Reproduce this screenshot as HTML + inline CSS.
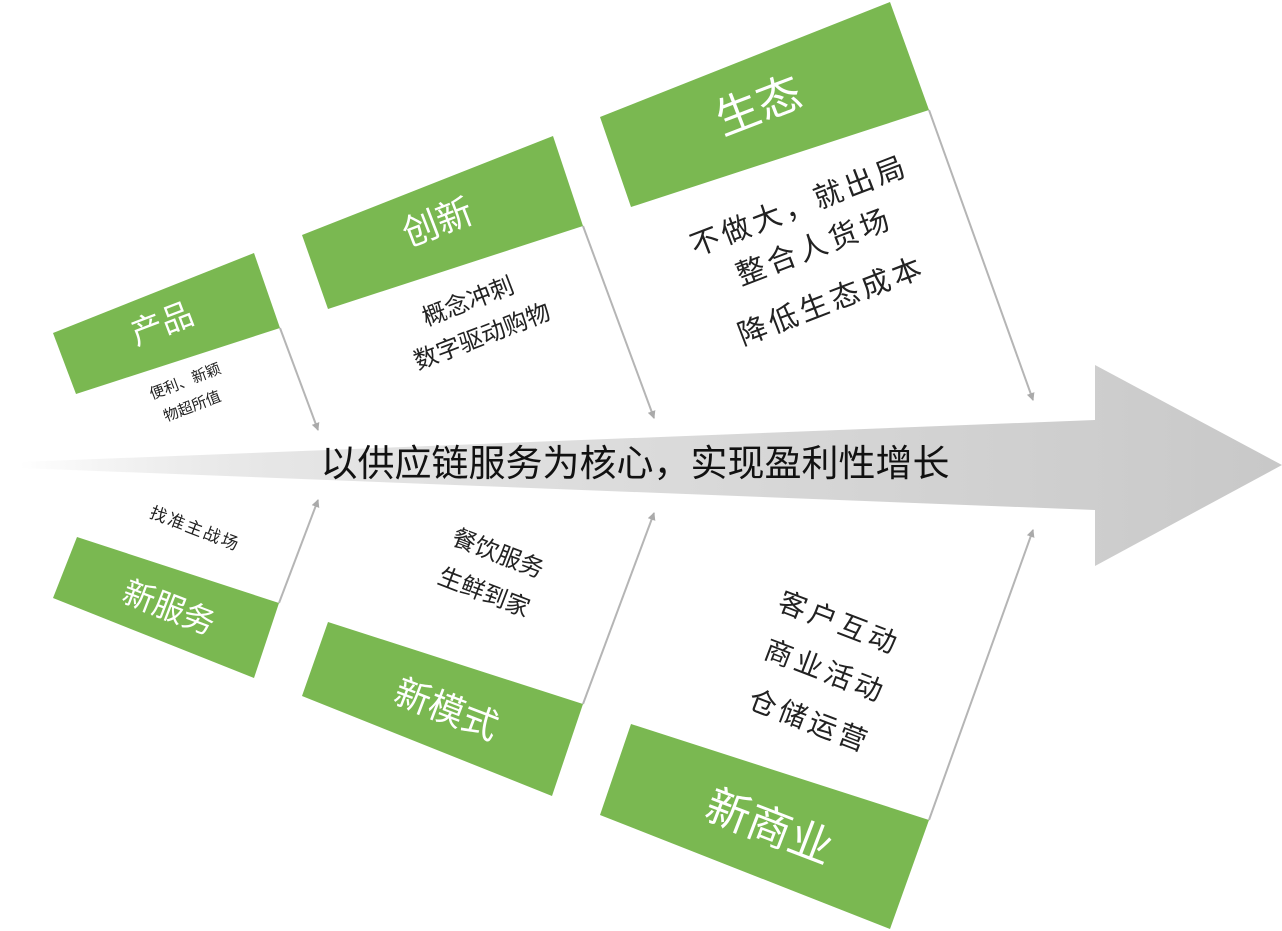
<!DOCTYPE html>
<html><head><meta charset="utf-8"><style>
html,body{margin:0;padding:0;background:#fff;}
svg{display:block;}
text{font-family:"Liberation Sans","Noto Sans CJK SC",sans-serif;}
</style></head><body>
<svg width="1282" height="931" viewBox="0 0 1282 931" xmlns="http://www.w3.org/2000/svg">
<defs>
<linearGradient id="g" x1="0" x2="1" y1="0" y2="0">
<stop offset="0" stop-color="#d0d0d0" stop-opacity="0"/>
<stop offset="0.25" stop-color="#e4e4e4" stop-opacity="1"/>
<stop offset="1" stop-color="#c8c8c8"/>
</linearGradient>
<marker id="ah" markerWidth="8" markerHeight="8" refX="7" refY="4" orient="auto" markerUnits="userSpaceOnUse">
<path d="M0,0 L8,4 L0,8 Z" fill="#aaa"/>
</marker>
</defs>
<polygon points="20,462 1095,420 1095,365 1282,465 1095,566 1095,510 20,468" fill="url(#g)"/>
<text x="635" y="476" font-size="37" text-anchor="middle" fill="#111">以供应链服务为核心，实现盈利性增长</text>

<g stroke="#b5b5b5" stroke-width="2" fill="none" marker-end="url(#ah)">
<line x1="280" y1="328" x2="318" y2="430"/>
<line x1="583" y1="226" x2="654" y2="418"/>
<line x1="929" y1="110" x2="1033" y2="400"/>
<line x1="279" y1="603" x2="318" y2="500"/>
<line x1="583" y1="704" x2="654" y2="513"/>
<line x1="929" y1="820" x2="1033" y2="530"/>
</g>

<g fill="#7ab851">
<polygon points="53,333 254,253 280,328 76,394"/>
<polygon points="302,235 553,136 583,226 328,309"/>
<polygon points="600,117 890,2 929,110 631,207"/>
<polygon points="77,537 279,603 254,678 53,598"/>
<polygon points="328,622 583,704 552,796 302,696"/>
<polygon points="631,724 929,820 890,929 600,815"/>
</g>

<g fill="#fff" text-anchor="middle">
<text transform="translate(166,334) rotate(-21)" font-size="32">产品</text>
<text transform="translate(442,234) rotate(-21)" font-size="36">创新</text>
<text transform="translate(764,120) rotate(-21)" font-size="44">生态</text>
<text transform="translate(165,618) rotate(21)" font-size="32">新服务</text>
<text transform="translate(442,721) rotate(21)" font-size="36">新模式</text>
<text transform="translate(764,841) rotate(21)" font-size="44">新商业</text>
</g>

<g fill="#222" text-anchor="middle">
<text transform="translate(187,386) rotate(-21)" font-size="15">便利、新颖</text>
<text transform="translate(194,411) rotate(-21)" font-size="15">物超所值</text>
<text transform="translate(471,309) rotate(-21)" font-size="24">概念冲刺</text>
<text transform="translate(485,344) rotate(-21)" font-size="24">数字驱动购物</text>
<text transform="translate(803,215) rotate(-21)" font-size="29" letter-spacing="4">不做大，就出局</text>
<text transform="translate(818,256) rotate(-21)" font-size="29" letter-spacing="4">整合人货场</text>
<text transform="translate(835,310) rotate(-21)" font-size="29" letter-spacing="4">降低生态成本</text>
<text transform="translate(193,534) rotate(21)" font-size="17" letter-spacing="2">找准主战场</text>
<text transform="translate(495,561) rotate(21)" font-size="24">餐饮服务</text>
<text transform="translate(481,600) rotate(21)" font-size="24">生鲜到家</text>
<text transform="translate(836,632) rotate(21)" font-size="28" letter-spacing="4">客户互动</text>
<text transform="translate(822,680) rotate(21)" font-size="28" letter-spacing="4">商业活动</text>
<text transform="translate(806,730) rotate(21)" font-size="28" letter-spacing="4">仓储运营</text>
</g>
</svg>
</body></html>
